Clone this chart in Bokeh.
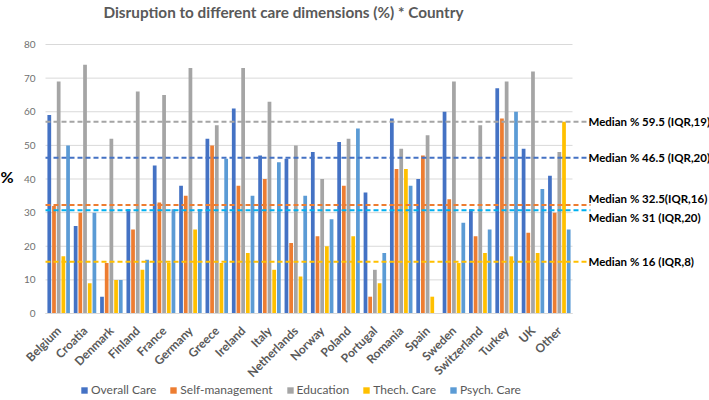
from bokeh.plotting import figure
from bokeh.models import (ColumnDataSource, Range1d, FixedTicker, Legend, LegendItem)
from bokeh.transform import dodge
from bokeh.core.properties import value
from bokeh.embed import file_html
from bokeh.resources import INLINE

countries = ["Belgium", "Croatia", "Denmark", "Finland", "France", "Germany", "Greece",
             "Ireland", "Italy", "Netherlands", "Norway", "Poland", "Portugal", "Romania",
             "Spain", "Sweden", "Switzerland", "Turkey", "UK", "Other"]

overall_care    = [59, 26, 5, 31, 44, 38, 52, 61, 47, 46, 48, 51, 36, 58, 40, 60, 31, 67, 49, 41]
self_management = [32, 30, 15, 25, 33, 35, 50, 38, 40, 21, 23, 38, 5, 43, 47, 34, 23, 58, 24, 30]
education       = [69, 74, 52, 66, 65, 73, 56, 73, 63, 50, 40, 52, 13, 49, 53, 69, 56, 69, 72, 48]
tech_care       = [17, 9, 10, 13, 15, 25, 15, 18, 13, 11, 20, 23, 9, 43, 5, 15, 18, 17, 18, 57]
psych_care      = [50, 30, 10, 16, 31, 31, 46, 35, 45, 35, 28, 55, 18, 38, 0, 27, 25, 60, 37, 25]

series_names = ["Overall Care", "Self-management", "Education", "Thech. Care", "Psych. Care"]
series_colors = ["#4472C4", "#ED7D31", "#A5A5A5", "#FFC000", "#5B9BD5"]

median_line_values = [57, 46.3, 32.3, 30.7, 15.4]
median_labels = ["Median % 59.5 (IQR,19)", "Median % 46.5 (IQR,20)",
                 "Median % 32.5(IQR,16)", "Median % 31 (IQR,20)", "Median % 16 (IQR,8)"]
median_label_y = [57, 46.3, 34.3, 28.5, 15.4]
median_colors = ["#A5A5A5", "#4472C4", "#ED7D31", "#00B0F0", "#FFC000"]

y_ticks = [0, 10, 20, 30, 40, 50, 60, 70, 80]
title_text = "Disruption to different care dimensions (%) * Country"
y_title = "%"

FONT = "Lato"
n = len(countries)
centers = [i + 0.5 for i in range(n)]

W, H = 709, 400
plot_left, plot_bottom, plot_top = 45, 313, 44   # where the value axes sit on the page
cat_px = 26.35
px_per_unit = (plot_bottom - plot_top) / 80

p = figure(frame_width=W, frame_height=H, output_backend="svg", toolbar_location=None,
           x_range=Range1d(-plot_left / cat_px, (W - plot_left) / cat_px),
           y_range=Range1d(-(H - plot_bottom) / px_per_unit, plot_bottom / px_per_unit),
           min_border=0, outline_line_color=None)
p.title.visible = False
p.xgrid.visible = False
p.ygrid.visible = False

# gridlines
p.segment(x0=[0] * len(y_ticks), x1=[n] * len(y_ticks), y0=y_ticks, y1=y_ticks,
          line_color="#D9D9D9", line_width=1)

src = ColumnDataSource(dict(x=centers, overall=overall_care, selfm=self_management,
                            edu=education, tech=tech_care, psych=psych_care))
cols = ["overall", "selfm", "edu", "tech", "psych"]
slot = 0.178
bw = 0.142
renderers = []
for k, (c, col) in enumerate(zip(cols, series_colors)):
    r = p.vbar(x=dodge("x", (k - 2) * slot, range=p.x_range), top=c, width=bw,
               source=src, fill_color=col, line_color=None)
    renderers.append(r)

# median lines
line_end = (590 - plot_left) / cat_px
p.segment(x0=[0] * 5, x1=[line_end] * 5, y0=median_line_values, y1=median_line_values,
          line_color=median_colors, line_width=2, line_dash="5 3")
p.text(x=[(588 - plot_left) / cat_px] * 5, y=median_label_y, text=median_labels,
       text_font=value(FONT), text_font_size="11.5px", text_font_style="bold",
       text_color="#000000", text_baseline="middle", text_align="left")

# baseline
p.segment(x0=[0], x1=[n], y0=[0], y1=[0], line_color="#D9D9D9", line_width=1)

# title and y title
p.text(x=[(283 - plot_left) / cat_px], y=[89.8], text=[title_text],
       text_font=value(FONT), text_font_size="15.3px", text_font_style="bold",
       text_color="#595959", text_baseline="middle", text_align="center")
p.text(x=[(6.5 - plot_left) / cat_px], y=[40.6], text=[y_title],
       text_font=value(FONT), text_font_size="16px", text_font_style="bold",
       text_color="#000000", text_baseline="middle", text_align="center")

# axes, pinned at the value origin
p.xaxis.fixed_location = 0
p.xaxis.ticker = FixedTicker(ticks=centers)
p.xaxis.major_label_overrides = {c: name for c, name in zip(centers, countries)}
p.xaxis.major_label_orientation = 0.785398
p.xaxis.axis_line_color = None
p.xaxis.major_tick_line_color = None
p.xaxis.minor_tick_line_color = None
p.xaxis.major_tick_out = 0
p.xaxis.minor_tick_out = 0
p.xaxis.major_label_text_font = FONT
p.xaxis.major_label_text_font_size = "12px"
p.xaxis.major_label_text_font_style = "bold"
p.xaxis.major_label_text_color = "#595959"
p.xaxis.major_label_standoff = 15

p.yaxis.fixed_location = 0
p.yaxis.ticker = FixedTicker(ticks=y_ticks)
p.yaxis.axis_line_color = None
p.yaxis.major_tick_line_color = None
p.yaxis.minor_tick_line_color = None
p.yaxis.major_tick_out = 0
p.yaxis.minor_tick_out = 0
p.yaxis.major_label_text_font = FONT
p.yaxis.major_label_text_font_size = "10px"
p.yaxis.major_label_text_color = "#707070"
p.yaxis.major_label_standoff = 10

legend = Legend(items=[LegendItem(label=nm, renderers=[r]) for nm, r in zip(series_names, renderers)],
                orientation="horizontal", location=(80, 3),
                label_text_font=FONT, label_text_font_size="12px", label_text_color="#595959",
                glyph_width=8, glyph_height=8, label_standoff=3, spacing=13,
                padding=2, margin=0, border_line_color=None, background_fill_alpha=0,
                label_height=12)
p.add_layout(legend, "center")

open("out.html", "w").write(file_html(p, INLINE))
